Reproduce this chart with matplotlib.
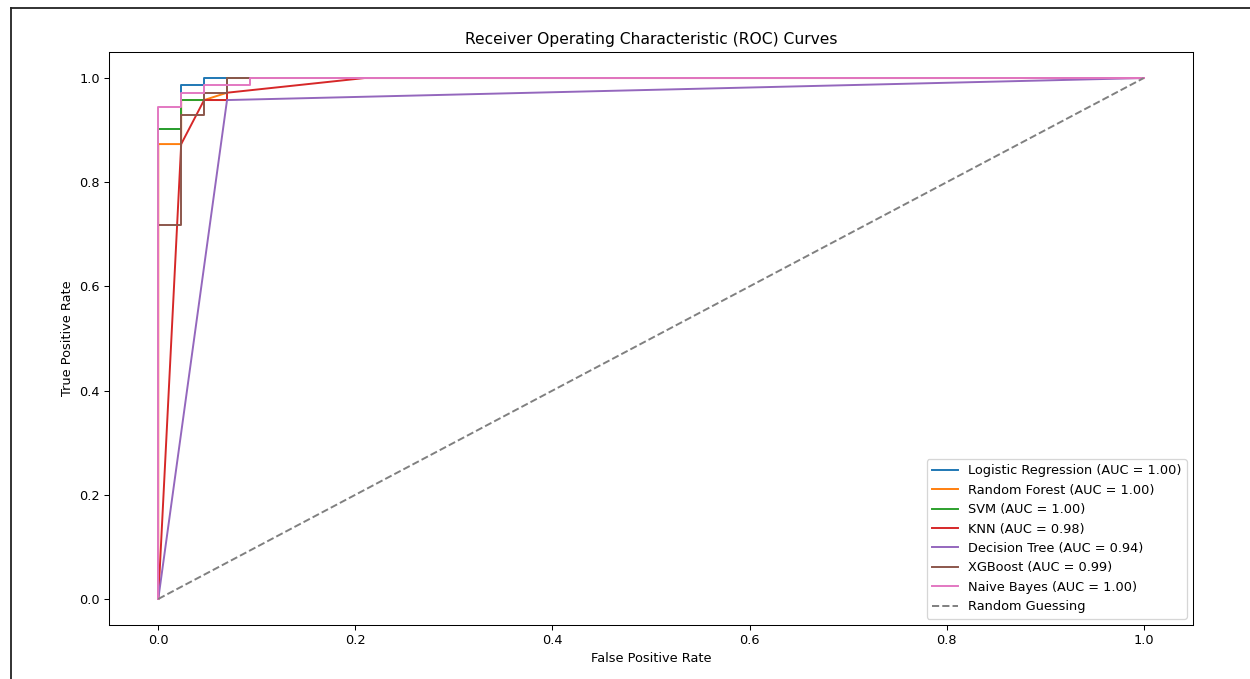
import matplotlib
matplotlib.use("Agg")
import matplotlib.pyplot as plt
from matplotlib.lines import Line2D

# test set: 43 negatives, 71 positives
N_NEG = 43.0
N_POS = 71.0

models = ["Logistic Regression", "Random Forest", "SVM", "KNN",
          "Decision Tree", "XGBoost", "Naive Bayes"]
aucs = [1.00, 1.00, 1.00, 0.98, 0.94, 0.99, 1.00]

# ROC points as (false positive count, true positive count)
lr_fp = [0, 0, 1, 1, 2, 2, 43]
lr_tp = [0, 64, 64, 70, 70, 71, 71]
rf_fp = [0, 0, 1, 1, 2, 3, 3, 43]
rf_tp = [0, 62, 62, 68, 68, 69, 71, 71]
svm_fp = [0, 0, 1, 1, 3, 3, 43]
svm_tp = [0, 64, 64, 68, 68, 71, 71]
knn_fp = [0, 1, 2, 3, 3, 9, 43]
knn_tp = [0, 62, 68, 68, 69, 71, 71]
dt_fp = [0, 3, 43]
dt_tp = [0, 68, 71]
xgb_fp = [0, 0, 1, 1, 2, 2, 3, 3, 43]
xgb_tp = [0, 51, 51, 66, 66, 69, 69, 71, 71]
nb_fp = [0, 0, 1, 1, 2, 2, 4, 4, 43]
nb_tp = [0, 67, 67, 69, 69, 70, 70, 71, 71]

curves = [(lr_fp, lr_tp), (rf_fp, rf_tp), (svm_fp, svm_tp), (knn_fp, knn_tp),
          (dt_fp, dt_tp), (xgb_fp, xgb_tp), (nb_fp, nb_tp)]

DPI = 93
fig = plt.figure(figsize=(1250 / DPI, 679 / DPI), dpi=DPI)
ax = fig.add_axes([109 / 1250, 1 - 625 / 679, (1193 - 109) / 1250, (625 - 52) / 679])

for name, auc, (fp, tp) in zip(models, aucs, curves):
    fpr = [v / N_NEG for v in fp]
    tpr = [v / N_POS for v in tp]
    ax.plot(fpr, tpr, label="%s (AUC = %.2f)" % (name, auc))

ax.plot([0, 1], [0, 1], "--", color="gray", label="Random Guessing")

ax.set_xlabel("False Positive Rate")
ax.set_ylabel("True Positive Rate")
ax.set_title("Receiver Operating Characteristic (ROC) Curves")
ax.legend(loc="lower right")

# screenshot frame
fig.add_artist(Line2D([11, 11], [0, 671], transform=None, color="#222222", lw=1.4))
fig.add_artist(Line2D([11, 1250], [671, 671], transform=None, color="#222222", lw=1.4))

fig.savefig("out.png", dpi=DPI)
